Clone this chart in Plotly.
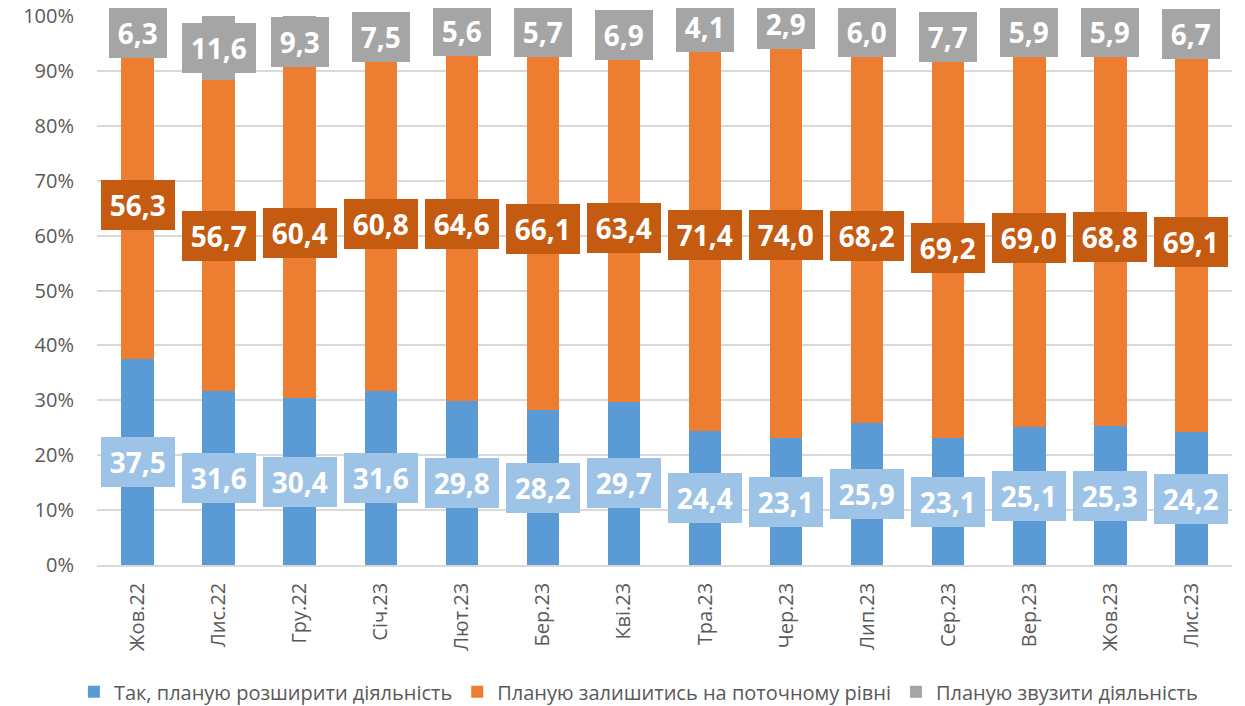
import plotly.graph_objects as go

categories = ["Жов.22", "Лис.22", "Гру.22", "Січ.23", "Лют.23", "Бер.23", "Кві.23",
              "Тра.23", "Чер.23", "Лип.23", "Сер.23", "Вер.23", "Жов.23", "Лис.23"]
expand = [37.5, 31.6, 30.4, 31.6, 29.8, 28.2, 29.7, 24.4, 23.1, 25.9, 23.1, 25.1, 25.3, 24.2]
stay = [56.3, 56.7, 60.4, 60.8, 64.6, 66.1, 63.4, 71.4, 74.0, 68.2, 69.2, 69.0, 68.8, 69.1]
shrink = [6.3, 11.6, 9.3, 7.5, 5.6, 5.7, 6.9, 4.1, 2.9, 6.0, 7.7, 5.9, 5.9, 6.7]
y_ticks = [0, 10, 20, 30, 40, 50, 60, 70, 80, 90, 100]

series = [
    ("Так, планую розширити діяльність", expand, "#5B9BD5", "#9DC3E6"),
    ("Планую залишитись на поточному рівні", stay, "#ED7D31", "#C55A11"),
    ("Планую звузити діяльність", shrink, "#A5A5A5", "#A5A5A5"),
]

FONT = "Open Sans"
fig = go.Figure()
for name, vals, col, _ in series:
    fig.add_trace(go.Bar(x=categories, y=vals, name=name, marker_color=col,
                         marker_line_width=0, width=0.4, hoverinfo="skip"))

# labels centered in each (normalised) segment
annotations = []
for i, cat in enumerate(categories):
    total = expand[i] + stay[i] + shrink[i]
    base = 0.0
    for name, vals, col, lab in series:
        seg = vals[i] / total * 100
        annotations.append(dict(
            x=cat, y=base + seg / 2, xref="x", yref="y",
            text="\u200a" + f"{vals[i]:.1f}".replace(".", ",") + "\u200a", showarrow=False,
            font=dict(family=FONT, size=28, color="white", weight="bold"),
            bgcolor=lab, borderpad=6, borderwidth=0))
        base += seg

# the page body has an 8px margin, so the figure is 8px smaller and margins shifted
fig.update_layout(
    barmode="stack", barnorm="percent",
    width=1237, height=698,
    margin=dict(l=89, r=13, t=8, b=141, autoexpand=False),
    plot_bgcolor="white", paper_bgcolor="white",
    font=dict(family=FONT, size=20, color="#595959"),
    annotations=annotations,
    showlegend=True,
    legend=dict(orientation="h", x=0.477, xanchor="center", y=-0.231, yanchor="middle",
                font=dict(family=FONT, size=20, color="#595959"), traceorder="normal",
                bgcolor="rgba(0,0,0,0)", itemwidth=30),
)
fig.update_yaxes(range=[0, 100], tickvals=y_ticks, ticktext=[f"{v}%" for v in y_ticks],
                 showgrid=True, gridcolor="#D9D9D9", gridwidth=1.5, zeroline=False,
                 showline=False, ticklabelstandoff=22, automargin=False,
                 ticklabeloverflow="allow",
                 tickfont=dict(family=FONT, size=20, color="#595959"))
fig.update_xaxes(tickangle=-90, showline=True, linecolor="#D9D9D9", linewidth=1.5,
                 ticklabelstandoff=8, automargin=False, ticklabeloverflow="allow",
                 tickfont=dict(family=FONT, size=20, color="#595959"))

fig.write_html("out.html")
